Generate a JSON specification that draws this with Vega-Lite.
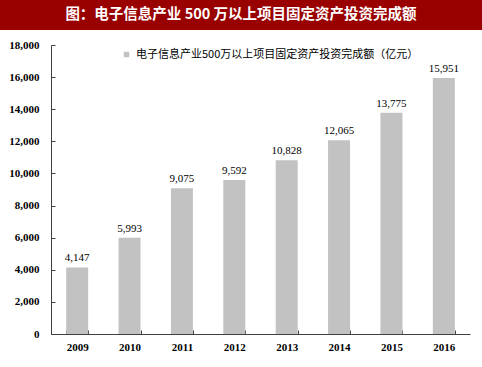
{
  "$schema": "https://vega.github.io/schema/vega-lite/v6.json",
  "padding": 0,
  "background": "white",
  "bounds": "flush",
  "spacing": 15,
  "resolve": {"legend": {"color": "independent"}, "scale": {"color": "independent"}},
  "config": {
    "view": {"stroke": null},
    "axis": {"labelFont": "Liberation Serif", "labelFontSize": 11, "labelColor": "#000000", "domainColor": "#404040", "tickColor": "#404040", "grid": false, "title": null}
  },
  "vconcat": [
    {
      "width": 482,
      "height": 30,
      "view": {"fill": "#990000", "stroke": null},
      "data": {"values": [{"t": "图：电子信息产业 500 万以上项目固定资产投资完成额"}]},
      "mark": {"type": "text", "color": "white", "font": "Noto Sans CJK SC", "fontWeight": "bold", "fontSize": 14.5, "align": "center", "baseline": "middle"},
      "encoding": {"text": {"field": "t"}}
    },
    {
      "width": 482,
      "height": 289,
      "data": {"values": [
        {"year": "2009", "value": 4147},
        {"year": "2010", "value": 5993},
        {"year": "2011", "value": 9075},
        {"year": "2012", "value": 9592},
        {"year": "2013", "value": 10828},
        {"year": "2014", "value": 12065},
        {"year": "2015", "value": 13775},
        {"year": "2016", "value": 15951}
      ]},
      "encoding": {
        "x": {"field": "year", "type": "nominal", "scale": {"range": [51, 470], "paddingInner": 0.58, "paddingOuter": 0.29},
              "axis": {"labelAngle": 0, "tickBand": "extent", "tickSize": -4, "labelPadding": 11, "labelFontWeight": "bold"}},
        "y": {"field": "value", "type": "quantitative", "scale": {"domain": [0, 18000], "nice": false},
              "axis": {"values": [0, 2000, 4000, 6000, 8000, 10000, 12000, 14000, 16000, 18000], "format": ",.0f", "tickSize": -4, "labelPadding": 16, "offset": -51, "labelFontWeight": "bold"}}
      },
      "layer": [
        {
          "mark": {"type": "bar"},
          "encoding": {
            "color": {"datum": "电子信息产业500万以上项目固定资产投资完成额（亿元）", "type": "nominal",
                      "scale": {"range": ["#c2c2c2"]},
                      "legend": {"orient": "none", "legendX": 121, "legendY": 4, "title": null, "symbolType": "square", "symbolSize": 30, "labelFont": "Noto Sans CJK SC", "labelFontSize": 11, "labelColor": "#000000", "labelLimit": 400, "symbolStrokeWidth": 0}}
          }
        },
        {
          "mark": {"type": "text", "baseline": "bottom", "dy": -4, "font": "Liberation Serif", "fontSize": 11, "color": "#000000"},
          "encoding": {"text": {"field": "value", "type": "quantitative", "format": ",.0f"}}
        }
      ]
    }
  ]
}
